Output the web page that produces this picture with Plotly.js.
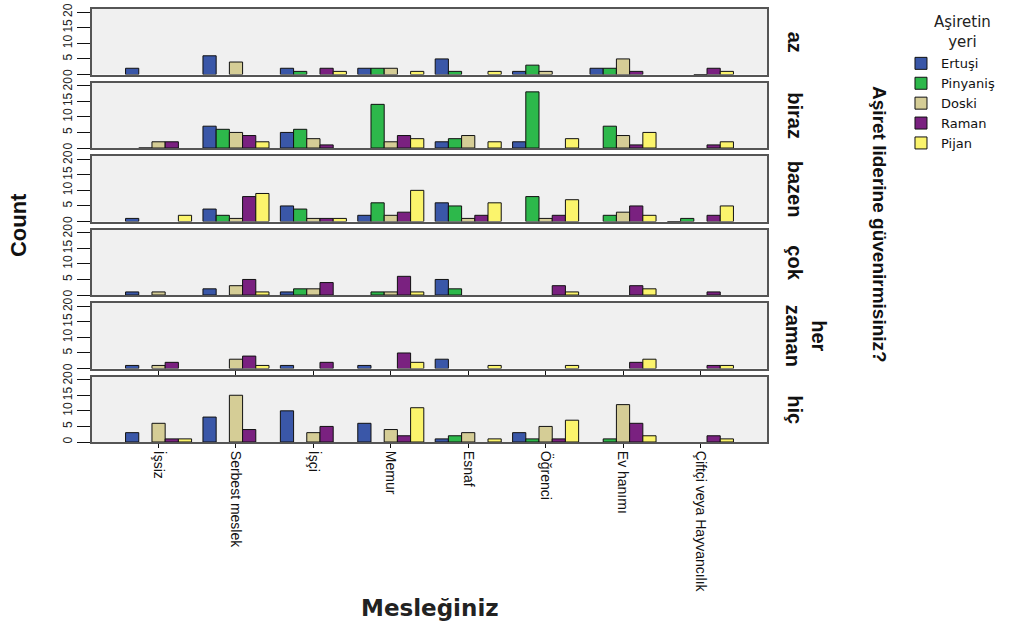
<!DOCTYPE html>
<html><head><meta charset="utf-8">
<script src="https://cdn.plot.ly/plotly-3.0.1.min.js"></script>
<style>body{margin:0;background:#fff}</style>
</head><body><div id="chart" style="width:1024px;height:626px"></div>
<script>
// Occupation categories (x axis)
const categories = ['İşsiz','Serbest meslek','İşçi','Memur','Esnaf','Öğrenci','Ev hanımı','Çiftçi veya Hayvancılık'];
// Facet rows: "Aşiret liderine güvenirmisiniz?"
const facets = ['az','biraz','bazen','çok','her<br>zaman','hiç'];
// Series: "Aşiretin yeri"
const seriesNames = ['Ertuşi','Pinyaniş','Doski','Raman','Pijan'];
const seriesColors = ['#3a57a8','#2db84b','#d5cd96','#7a2180','#fbf46c'];

// Counts per facet row (az, biraz, bazen, çok, her zaman, hiç), each row over the 8 categories
const ertusi = [
  [2,6,2,2,5,1,2,null],
  [null,7,5,null,2,2,null,null],
  [1,4,5,2,6,null,null,0],
  [1,2,1,null,5,null,null,null],
  [1,null,1,1,3,null,null,null],
  [3,8,10,6,1,3,null,null]
];
const pinyanis = [
  [null,null,1,2,1,3,2,null],
  [0,6,6,14,3,18,7,null],
  [null,2,4,6,5,8,2,1],
  [null,null,2,1,2,null,null,null],
  [null,null,null,null,null,null,null,null],
  [null,null,null,null,2,1,1,null]
];
const doski = [
  [null,4,null,2,null,1,5,0],
  [2,5,3,2,4,null,4,null],
  [null,1,1,2,1,1,3,null],
  [1,3,2,1,null,null,null,null],
  [1,3,null,null,null,null,null,null],
  [6,15,3,4,3,5,12,null]
];
const raman = [
  [null,null,2,null,null,null,1,2],
  [2,4,1,4,null,null,1,1],
  [null,8,1,3,2,2,5,2],
  [null,5,4,6,null,3,3,1],
  [2,4,2,5,null,null,2,1],
  [1,4,5,2,null,1,6,2]
];
const pijan = [
  [null,null,1,1,1,null,null,1],
  [null,2,null,3,2,3,5,2],
  [2,9,1,10,6,7,2,5],
  [null,1,null,1,null,1,2,null],
  [null,1,null,2,1,1,3,1],
  [1,null,null,11,1,7,2,1]
];
const yTicks = [0,5,10,15,20];

const seriesData = [ertusi, pinyanis, doski, raman, pijan];
const narrow = "'Liberation Sans Narrow', 'Arial Narrow', 'Liberation Sans', Arial, sans-serif";
const wide = "'DejaVu Sans', Verdana, sans-serif";

const traces = [];
facets.forEach((f, fi) => {
  seriesNames.forEach((s, si) => {
    traces.push({
      type: 'bar',
      x: categories,
      y: seriesData[si][fi],
      name: s,
      legendgroup: s,
      showlegend: fi === 0,
      xaxis: 'x',
      yaxis: fi === 0 ? 'y' : 'y' + (fi + 1),
      marker: {color: seriesColors[si], line: {color: '#111', width: 1}},
      hoverinfo: 'x+y+name'
    });
  });
});

const H = 0.1513, G = 0.01848;
const layout = {
  width: 1024, height: 626,
  margin: {l: 92, r: 257, t: 9, b: 184},
  paper_bgcolor: '#ffffff',
  plot_bgcolor: '#f0f0f0',
  barmode: 'group',
  bargap: 0.147,
  bargroupgap: 0,
  showlegend: true,
  legend: {
    x: 1.1985, y: 0.909, xanchor: 'left', yanchor: 'top',
    bgcolor: 'rgba(0,0,0,0)',
    font: {family: wide, size: 13, color: '#111'},
    tracegroupgap: 0
  },
  xaxis: {
    type: 'category', anchor: 'y6', domain: [0, 1],
    range: [-0.86, 7.86],
    tickangle: 90,
    ticks: 'outside', ticklen: 4, tickcolor: '#111',
    tickfont: {family: narrow, size: 14, color: '#111'},
    showline: true, linecolor: '#555', linewidth: 2, mirror: 'all',
    showgrid: false, zeroline: false, fixedrange: true
  },
  annotations: [],
};

facets.forEach((f, fi) => {
  const key = fi === 0 ? 'yaxis' : 'yaxis' + (fi + 1);
  const top = 1 - fi * (H + G);
  const bot = Math.max(0, top - H);
  layout[key] = {
    anchor: 'x', domain: [bot, top],
    range: [0, 21],
    tickvals: yTicks, ticktext: yTicks.map(String),
    tickangle: -90,
    ticks: 'outside', ticklen: 13, tickcolor: '#111',
    tickfont: {family: narrow, size: 12, color: '#222'},
    showline: true, linecolor: '#555', linewidth: 2, mirror: true,
    showgrid: false, zeroline: false, fixedrange: true
  };
  const yref = (fi === 0 ? 'y' : 'y' + (fi + 1)) + ' domain';
  layout.annotations.push({
    text: '<b>' + f + '</b>', xref: 'paper', yref: yref,
    x: f.indexOf('<br>') >= 0 ? 1.058 : 1.0415, y: 0.5,
    xanchor: 'center', yanchor: 'middle', textangle: 90, showarrow: false,
    font: {family: narrow, size: 20, color: '#111'}
  });
});

layout.annotations.push({
  text: 'Aşiretin<br>yeri', xref: 'paper', yref: 'paper',
  x: (962 - 92) / 675, y: (442 - 32) / 433,
  xanchor: 'center', yanchor: 'middle', showarrow: false,
  font: {family: wide, size: 15, color: '#222'}
});
layout.annotations.push({
  text: '<b>Count</b>', xref: 'paper', yref: 'paper', x: -0.1096, y: 0.501,
  xanchor: 'center', yanchor: 'middle', textangle: -90, showarrow: false,
  font: {family: narrow, size: 22, color: '#111'}
});
layout.annotations.push({
  text: '<b>Aşiret liderine güvenirmisiniz?</b>', xref: 'paper', yref: 'paper', x: 1.1674, y: 0.501,
  xanchor: 'center', yanchor: 'middle', textangle: 90, showarrow: false,
  font: {family: narrow, size: 19, color: '#111'}
});
layout.annotations.push({
  text: '<b>Mesleğiniz</b>', xref: 'paper', yref: 'paper', x: 0.5, y: -0.383,
  xanchor: 'center', yanchor: 'middle', showarrow: false,
  font: {family: wide, size: 23, color: '#222'}
});

Plotly.newPlot('chart', traces, layout, {displayModeBar: false});
</script>
</body></html>
